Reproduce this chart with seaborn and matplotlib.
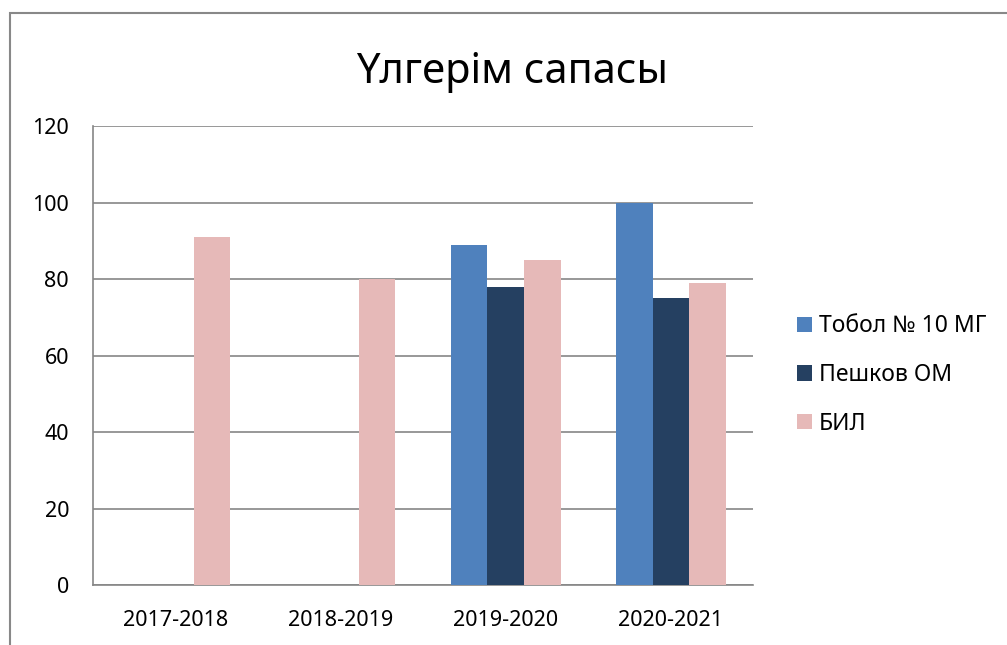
import numpy as np
import pandas as pd
import seaborn as sns
import matplotlib.pyplot as plt
from matplotlib.patches import Rectangle

# Chart data
years = ["2017-2018", "2018-2019", "2019-2020", "2020-2021"]
series = ["Тобол № 10 МГ", "Пешков ОМ", "БИЛ"]
tobol = [0, 0, 89, 100]
peshkov = [0, 0, 78, 75]
bil = [91, 80, 85, 79]
colors = ["#4F81BD", "#254061", "#E6B9B8"]
y_ticks = [0, 20, 40, 60, 80, 100, 120]

df = pd.DataFrame({
    "year": years * 3,
    "series": [series[0]] * 4 + [series[1]] * 4 + [series[2]] * 4,
    "value": tobol + peshkov + bil,
})

sns.set_style("white")
plt.rcParams["font.family"] = ["Noto Sans", "DejaVu Sans"]
plt.rcParams["text.color"] = "black"
plt.rcParams["xtick.color"] = "black"
plt.rcParams["ytick.color"] = "black"

fig = plt.figure(figsize=(10.07, 6.45), dpi=100)
ax = fig.add_axes([0.092, 0.093, 0.6562, 0.7116])

sns.barplot(data=df, x="year", y="value", hue="series", palette=colors,
            width=0.665, gap=0, linewidth=0, saturation=1, ax=ax, zorder=3)

grid_col = "#868686"
ax.set_ylim(0, 120)
ax.set_xlim(-0.5, 3.5)
ax.set_yticks(y_ticks)
ax.yaxis.grid(True, color=grid_col, linewidth=1.2, zorder=0)
ax.set_axisbelow(True)
ax.tick_params(axis="y", length=0, pad=17, labelsize=15.5)
ax.tick_params(axis="x", length=0, pad=18, labelsize=15.5)
ax.set_xlabel("")
ax.set_ylabel("")
for s in ["top", "right"]:
    ax.spines[s].set_visible(False)
for s in ["left", "bottom"]:
    ax.spines[s].set_color(grid_col)
    ax.spines[s].set_linewidth(1.2)

fig.text(0.508, 0.889, "Үлгерім сапасы", ha="center", va="center", fontsize=30)

handles, labels = ax.get_legend_handles_labels()
ax.legend(handles, labels, loc="center left", bbox_to_anchor=(0.7915, 0.4186),
          bbox_transform=fig.transFigure, frameon=False, fontsize=16.5,
          handlelength=0.65, handleheight=0.65, handletextpad=0.3,
          labelspacing=1.07, borderpad=0, borderaxespad=0)

# outer chart border
fig.patches.append(Rectangle((10 / 1007, -0.1), 1.2, 0.1 + (645 - 13) / 645,
                             transform=fig.transFigure, fill=False,
                             edgecolor="#888888", linewidth=1.5))

fig.savefig("out.png", dpi=100)
